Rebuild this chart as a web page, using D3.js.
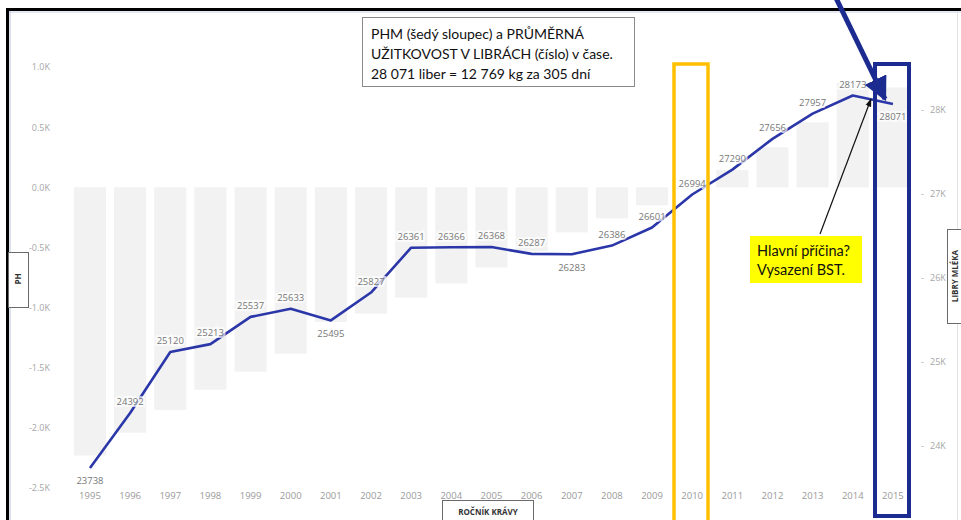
<!DOCTYPE html>
<html>
<head>
<meta charset="utf-8">
<script src="https://cdnjs.cloudflare.com/ajax/libs/d3/7.8.5/d3.min.js"></script>
<style>
  html, body { margin: 0; padding: 0; background: #ffffff; }
  svg { display: block; }
</style>
</head>
<body>
<svg id="chart" width="961" height="520"></svg>
<script>
// Ročník krávy (years)
const years = ["1995","1996","1997","1998","1999","2000","2001","2002","2003","2004",
               "2005","2006","2007","2008","2009","2010","2011","2012","2013","2014","2015"];
// Průměrná užitkovost v librách (line)
const milkLbs = [23738,24392,25120,25213,25537,25633,25495,25827,26361,26366,
                 26368,26287,26283,26386,26601,26994,27290,27656,27957,28173,28071];
// PHM (grey bars)
const phm = [-2230,-2040,-1850,-1683,-1533,-1383,-1120,-1050,-917,-800,
             -667,-530,-375,-258,-150,-15,142,333,540,870,830];
// years whose value label sits under the point
const labelBelow = ["1995","2001","2007","2015"];
// axis tick values
const leftTicks = [1000,500,0,-500,-1000,-1500,-2000,-2500];
const rightTicks = [24000,25000,26000,27000,28000];

const svg = d3.select("#chart");
const uiFont = "'Open Sans', 'Noto Sans', sans-serif";
const noteFont = "Lato, 'Open Sans', sans-serif";

const x = d3.scaleBand().domain(years).range([69.9, 913]).paddingInner(0.2).paddingOuter(0.1);
const yL = d3.scaleLinear().domain([-2500, 1000]).range([488, 67]);
const yR = d3.scaleLinear().domain([24000, 28000]).range([446, 110]);
const cx = d => x(d) + x.bandwidth() / 2;

// outer frame
svg.append("line").attr("x1", 7).attr("x2", 961).attr("y1", 9.5).attr("y2", 9.5)
  .attr("stroke", "#000").attr("stroke-width", 3);
svg.append("line").attr("x1", 7.5).attr("x2", 7.5).attr("y1", 8).attr("y2", 520)
  .attr("stroke", "#000").attr("stroke-width", 3);
svg.append("line").attr("x1", 9).attr("x2", 961).attr("y1", 12).attr("y2", 12)
  .attr("stroke", "#c9d2e6").attr("stroke-width", 1);
svg.append("line").attr("x1", 10).attr("x2", 10).attr("y1", 11).attr("y2", 520)
  .attr("stroke", "#b9c2dc").attr("stroke-width", 1);
svg.append("line").attr("x1", 957.5).attr("x2", 957.5).attr("y1", 12).attr("y2", 520)
  .attr("stroke", "#e2e2e2").attr("stroke-width", 1);

// left axis (PH)
const axL = d3.axisLeft(yL).tickValues(leftTicks).tickSize(0).tickPadding(0)
  .tickFormat(d => d3.format(".1f")(d / 1000).replace("−", "-") + "K");
const gL = svg.append("g").attr("transform", "translate(50,0)").call(axL);
gL.select(".domain").remove();
gL.selectAll("text").attr("fill", "#a6a6a6").attr("font-family", uiFont).attr("font-size", 9);

// right axis (libry mléka)
const axR = d3.axisRight(yR).tickValues(rightTicks).tickSize(3).tickPadding(6)
  .tickFormat(d => (d / 1000) + "K");
const gR = svg.append("g").attr("transform", "translate(921,0)").call(axR);
gR.select(".domain").remove();
gR.selectAll("line").attr("stroke", "#d0d0d0");
gR.selectAll("text").attr("fill", "#a6a6a6").attr("font-family", uiFont).attr("font-size", 9);

// x axis (years)
const axX = d3.axisBottom(x).tickSize(0).tickPadding(0);
const gX = svg.append("g").attr("transform", "translate(0,492)").call(axX);
gX.select(".domain").remove();
gX.selectAll("text").attr("fill", "#9a9a9a").attr("font-family", uiFont).attr("font-size", 9.5);

// grey PHM bars
svg.append("g").selectAll("rect").data(years).join("rect")
  .attr("x", d => x(d))
  .attr("width", x.bandwidth())
  .attr("y", (d, i) => Math.min(yL(0), yL(phm[i])))
  .attr("height", (d, i) => Math.abs(yL(phm[i]) - yL(0)))
  .attr("fill", "#f2f2f2");

// milk yield line
const line = d3.line().x((d, i) => cx(years[i])).y(d => yR(d));
svg.append("path").datum(milkLbs).attr("d", line)
  .attr("fill", "none").attr("stroke", "#2b37a8").attr("stroke-width", 2.6)
  .attr("stroke-linejoin", "round");

// value labels
svg.append("g").selectAll("text").data(years).join("text")
  .attr("x", d => cx(d))
  .attr("y", (d, i) => yR(milkLbs[i]) + (labelBelow.includes(d) ? 13 : -11))
  .attr("dy", "0.35em")
  .attr("text-anchor", "middle")
  .attr("font-family", uiFont).attr("font-size", 9.5)
  .attr("fill", "#777")
  .attr("stroke", "#fff").attr("stroke-width", 4).attr("stroke-opacity", 0.7)
  .attr("paint-order", "stroke")
  .text((d, i) => milkLbs[i]);

// axis title boxes
function titleBox(bx, by, bw, bh, label, rot, tx, ty) {
  svg.append("rect").attr("x", bx).attr("y", by).attr("width", bw).attr("height", bh)
    .attr("fill", "#fff").attr("stroke", "#6a6a6a").attr("stroke-width", 1);
  svg.append("text").attr("transform", `translate(${tx},${ty}) rotate(${rot})`)
    .attr("text-anchor", "middle").attr("dy", "0.35em")
    .attr("font-family", uiFont).attr("font-size", 8).attr("font-weight", 700)
    .attr("fill", "#333").text(label);
}
titleBox(8.5, 252.5, 20, 55, "PH", -90, 18.5, 279);
titleBox(947.5, 229.5, 20, 94, "LIBRY MLÉKA", -90, 955, 276);
titleBox(442.5, 500.5, 91, 24, "ROČNÍK KRÁVY", 0, 488, 512);

// highlight frames
svg.append("rect").attr("x", 674).attr("y", 64).attr("width", 34).attr("height", 470)
  .attr("fill", "none").attr("stroke", "#ffc000").attr("stroke-width", 3.5);
svg.append("rect").attr("x", 875).attr("y", 64).attr("width", 34).attr("height", 452)
  .attr("fill", "none").attr("stroke", "#1c2b8f").attr("stroke-width", 4);

// note box
const note = svg.append("g");
note.append("rect").attr("x", 362.5).attr("y", 17.5).attr("width", 272).attr("height", 69)
  .attr("fill", "#fff").attr("stroke", "#8a8a8a").attr("stroke-width", 1);
["PHM (šedý sloupec) a PRŮMĚRNÁ",
 "UŽITKOVOST V LIBRÁCH (číslo) v čase.",
 "28 071 liber = 12 769 kg za 305 dní"].forEach((t, i) => {
  note.append("text").attr("x", 371).attr("y", 39 + i * 20)
    .attr("font-family", noteFont).attr("font-size", 14).attr("fill", "#111").text(t);
});

// callout
svg.append("rect").attr("x", 750).attr("y", 236).attr("width", 112).attr("height", 47)
  .attr("fill", "#ffff00");
["Hlavní příčina?", "Vysazení BST."].forEach((t, i) => {
  svg.append("text").attr("x", 757).attr("y", 256 + i * 19)
    .attr("font-family", noteFont).attr("font-size", 14.5).attr("fill", "#111").text(t);
});

// arrows
const defs = svg.append("defs");
defs.append("marker").attr("id", "headBlack").attr("viewBox", "0 0 10 10")
  .attr("refX", 9).attr("refY", 5).attr("markerWidth", 7).attr("markerHeight", 7)
  .attr("orient", "auto").append("path").attr("d", "M0,1.5 L10,5 L0,8.5 Z").attr("fill", "#111");
svg.append("line").attr("x1", 820).attr("y1", 234).attr("x2", 871).attr("y2", 99)
  .attr("stroke", "#111").attr("stroke-width", 1.2).attr("marker-end", "url(#headBlack)");

defs.append("marker").attr("id", "headBlue").attr("viewBox", "0 0 10 10")
  .attr("refX", 9).attr("refY", 5).attr("markerWidth", 4.8).attr("markerHeight", 4.8)
  .attr("orient", "auto").append("path").attr("d", "M0,0 L10,5 L0,10 Z").attr("fill", "#1c2b8f");
svg.append("line").attr("x1", 836).attr("y1", -2).attr("x2", 885).attr("y2", 99)
  .attr("stroke", "#1c2b8f").attr("stroke-width", 5).attr("marker-end", "url(#headBlue)");
</script>
</body>
</html>
